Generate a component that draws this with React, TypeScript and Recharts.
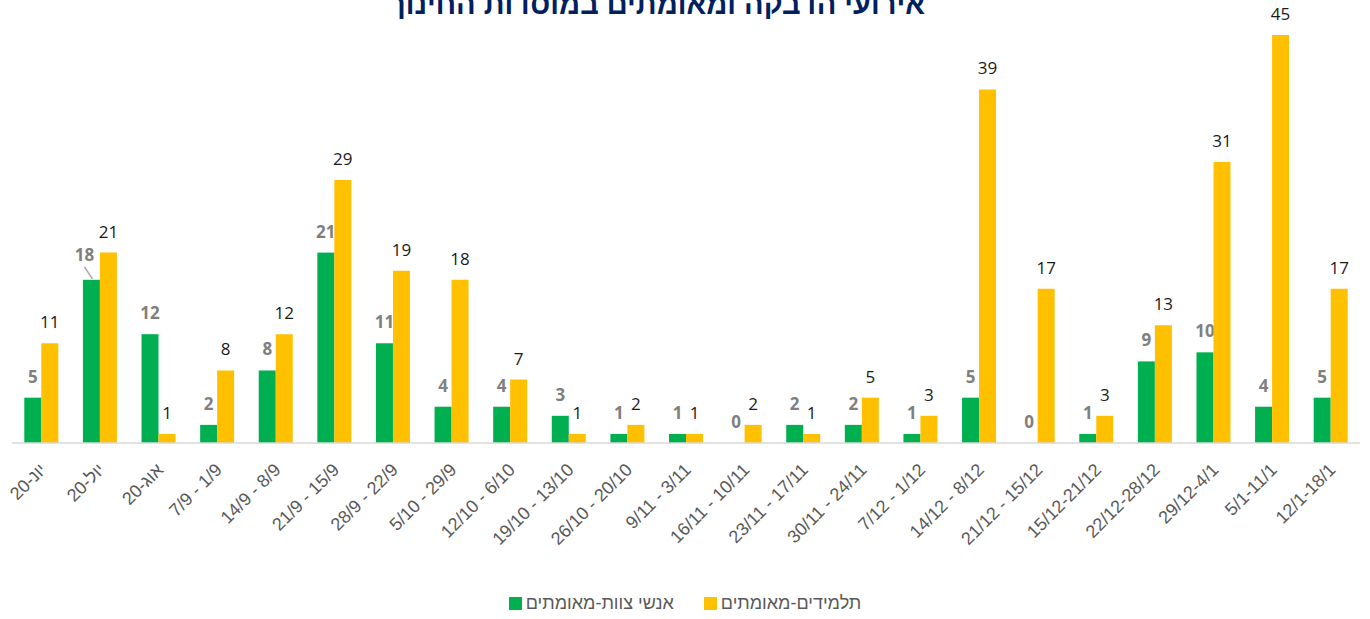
import React from 'react';
import { BarChart, Bar, XAxis, YAxis, Legend, LabelList } from 'recharts';

const periods = [
  'יונ-20', 'יול-20', 'אוג-20', '7/9 - 1/9', '14/9 - 8/9', '21/9 - 15/9', '28/9 - 22/9',
  '5/10 - 29/9', '12/10 - 6/10', '19/10 - 13/10', '26/10 - 20/10', '9/11 - 3/11',
  '16/11 - 10/11', '23/11 - 17/11', '30/11 - 24/11', '7/12 - 1/12', '14/12 - 8/12',
  '21/12 - 15/12', '15/12-21/12', '22/12-28/12', '29/12-4/1', '5/1-11/1', '12/1-18/1',
];
const staff = [5, 18, 12, 2, 8, 21, 11, 4, 4, 3, 1, 1, 0, 2, 2, 1, 5, 0, 1, 9, 10, 4, 5];
const students = [11, 21, 1, 8, 12, 29, 19, 18, 7, 1, 2, 1, 2, 1, 5, 3, 39, 17, 3, 13, 31, 45, 17];

const data = periods.map((p, i) => ({ period: p, staff: staff[i], students: students[i] }));

const AngledTick = (props: any) => {
  const { x, y, payload } = props;
  return (
    <text
      x={x + 6}
      y={y + 20}
      transform={`rotate(-45, ${x + 6}, ${y + 20})`}
      textAnchor="end"
      fill="#595959"
      fontSize={18}
      fontFamily="'Liberation Sans', Arial, sans-serif"
    >
      {payload.value}
    </text>
  );
};

// staff bar + its grey bold label; drawn here so zero values still get a "0"
// the "18" label was dragged aside in the original, with a leader line
const StaffShape = (props: any) => {
  const { x, y, width, height, payload, index } = props;
  const cx = x + width / 2;
  const v = payload.staff;
  const font = { fill: '#7f7f7f', fontSize: 17, fontWeight: 'bold' as const, fontFamily: "'Open Sans', sans-serif" };
  return (
    <g>
      {height > 0 && <rect x={x} y={y} width={width} height={height} fill="#00B050" />}
      {index === 1 ? (
        <>
          <line x1={cx - 7} y1={y - 13} x2={cx + 1} y2={y - 1} stroke="#a6a6a6" strokeWidth={1.5} />
          <text x={cx - 7} y={y - 19} textAnchor="middle" {...font}>{v}</text>
        </>
      ) : (
        <text x={cx} y={y - 15} textAnchor="middle" {...font}>{v}</text>
      )}
    </g>
  );
};

const StudentLabel = (props: any) => {
  const { x, y, width, value } = props;
  return (
    <text x={x + width / 2} y={y - 15} textAnchor="middle" fill="#1a1a1a" fontSize={17}
      fontFamily="'Open Sans', sans-serif">{value}</text>
  );
};

const LegendContent = (props: any) => {
  const { payload } = props;
  return (
    <div style={{ display: 'flex', justifyContent: 'center', gap: 30, fontFamily: "'Liberation Sans', Arial, sans-serif", fontSize: 18, color: '#595959' }}>
      {(payload || []).map((p: any) => (
        <div key={p.value} style={{ display: 'flex', alignItems: 'center', whiteSpace: 'nowrap' }}>
          <span style={{ display: 'inline-block', width: 13, height: 13, background: p.color, marginRight: 4 }} />
          <span>{p.value}</span>
        </div>
      ))}
    </div>
  );
};

const App: React.FC = () => {
  return (
    <div style={{ position: 'absolute', left: 0, top: 0, width: 1370, height: 619, background: '#fff' }}>
      <BarChart
        width={1370}
        height={619}
        data={data}
        margin={{ top: 35, right: 10, left: 12, bottom: 0 }}
        barCategoryGap="21%"
        barGap={0}
      >
        <text
          x={657}
          y={14}
          textAnchor="middle"
          fill="#002060"
          fontSize={29}
          fontWeight="bold"
          fontFamily="'Liberation Sans', Arial, sans-serif"
        >
          אירועי הדבקה ומאומתים במוסדות החינוך
        </text>
        <XAxis
          dataKey="period"
          interval={0}
          tickLine={false}
          axisLine={{ stroke: '#d9d9d9', strokeWidth: 1.5 }}
          tick={<AngledTick />}
          height={136}
        />
        <YAxis hide domain={[0, 45]} />
        <Legend
          verticalAlign="bottom"
          height={40}
          wrapperStyle={{ top: 593, left: 0, width: 1370 }}
          content={<LegendContent />}
        />
        <Bar dataKey="staff" name="אנשי צוות-מאומתים" fill="#00B050" isAnimationActive={false} shape={<StaffShape />} />
        <Bar dataKey="students" name="תלמידים-מאומתים" fill="#FFC000" isAnimationActive={false}>
          <LabelList dataKey="students" content={<StudentLabel />} />
        </Bar>
      </BarChart>
    </div>
  );
};

export default App;
